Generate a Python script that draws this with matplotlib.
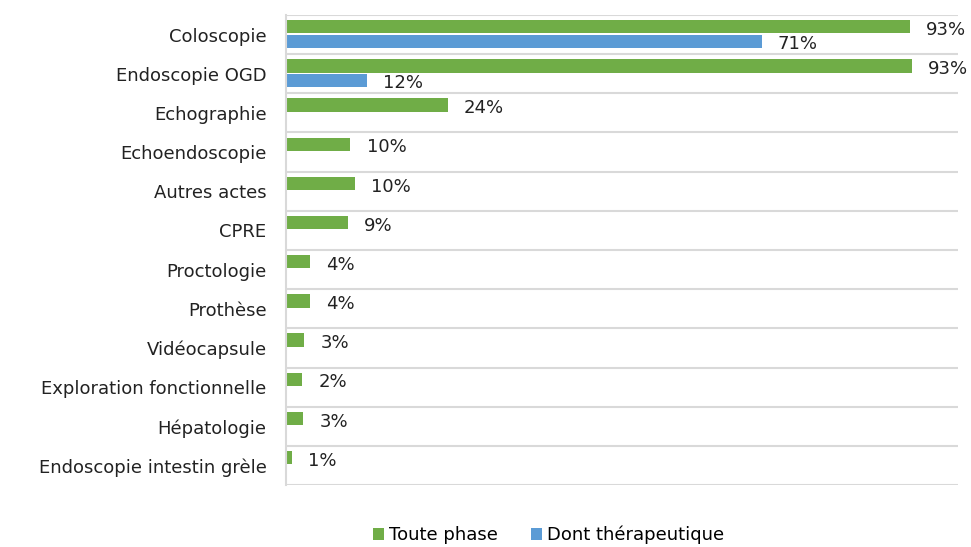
import matplotlib.pyplot as plt
import numpy as np

categories = ["Coloscopie", "Endoscopie OGD", "Echographie", "Echoendoscopie",
              "Autres actes", "CPRE", "Proctologie", "Prothèse", "Vidéocapsule",
              "Exploration fonctionnelle", "Hépatologie", "Endoscopie intestin grèle"]
toute_phase = [92.8, 93.2, 24.1, 9.6, 10.3, 9.2, 3.6, 3.6, 2.7, 2.4, 2.6, 0.9]
therapeutique = [70.8, 12.1, 0, 0, 0, 0, 0, 0, 0, 0, 0, 0]

green = "#70ad47"
blue = "#5b9bd5"
grid_col = "#d9d9d9"
fs = 13

fig = plt.figure(figsize=(9.71, 5.47), dpi=100)
ax = fig.add_axes([0.2945, 0.1133, 0.692, 0.8593])

y = np.arange(len(categories))
h = 0.34
ax.barh(y - 0.2, toute_phase, height=h, color=green, label="Toute phase")
ax.barh(y + 0.18, therapeutique, height=h, color=blue, label="Dont thérapeutique")

for i, v in enumerate(toute_phase):
    ax.text(v + 2.4, i - 0.12, f"{round(v):.0f}%", va="center", ha="left",
            fontsize=fs, color="#222222")
for i, v in enumerate(therapeutique):
    if v > 0:
        ax.text(v + 2.4, i + 0.24, f"{round(v):.0f}%", va="center", ha="left",
                fontsize=fs, color="#222222")

ax.set_xlim(0, 100)
ax.set_ylim(len(categories) - 0.5, -0.5)
ax.set_yticks(y)
ax.set_yticklabels(categories, fontsize=fs, color="#222222")
ax.tick_params(axis="y", length=0, pad=14)
ax.set_xticks([])

for b in np.arange(-0.5, len(categories), 1):
    ax.axhline(b, color=grid_col, lw=1.5, zorder=0)

for s in ["top", "right", "bottom"]:
    ax.spines[s].set_visible(False)
ax.spines["left"].set_color(grid_col)
ax.spines["left"].set_linewidth(1.5)

fig.legend(loc="lower center", ncol=2, frameon=False, fontsize=fs,
           bbox_to_anchor=(0.565, -0.025), handlelength=0.6, handleheight=0.6,
           handletextpad=0.3, columnspacing=1.8)

fig.savefig("out.png", dpi=100)
